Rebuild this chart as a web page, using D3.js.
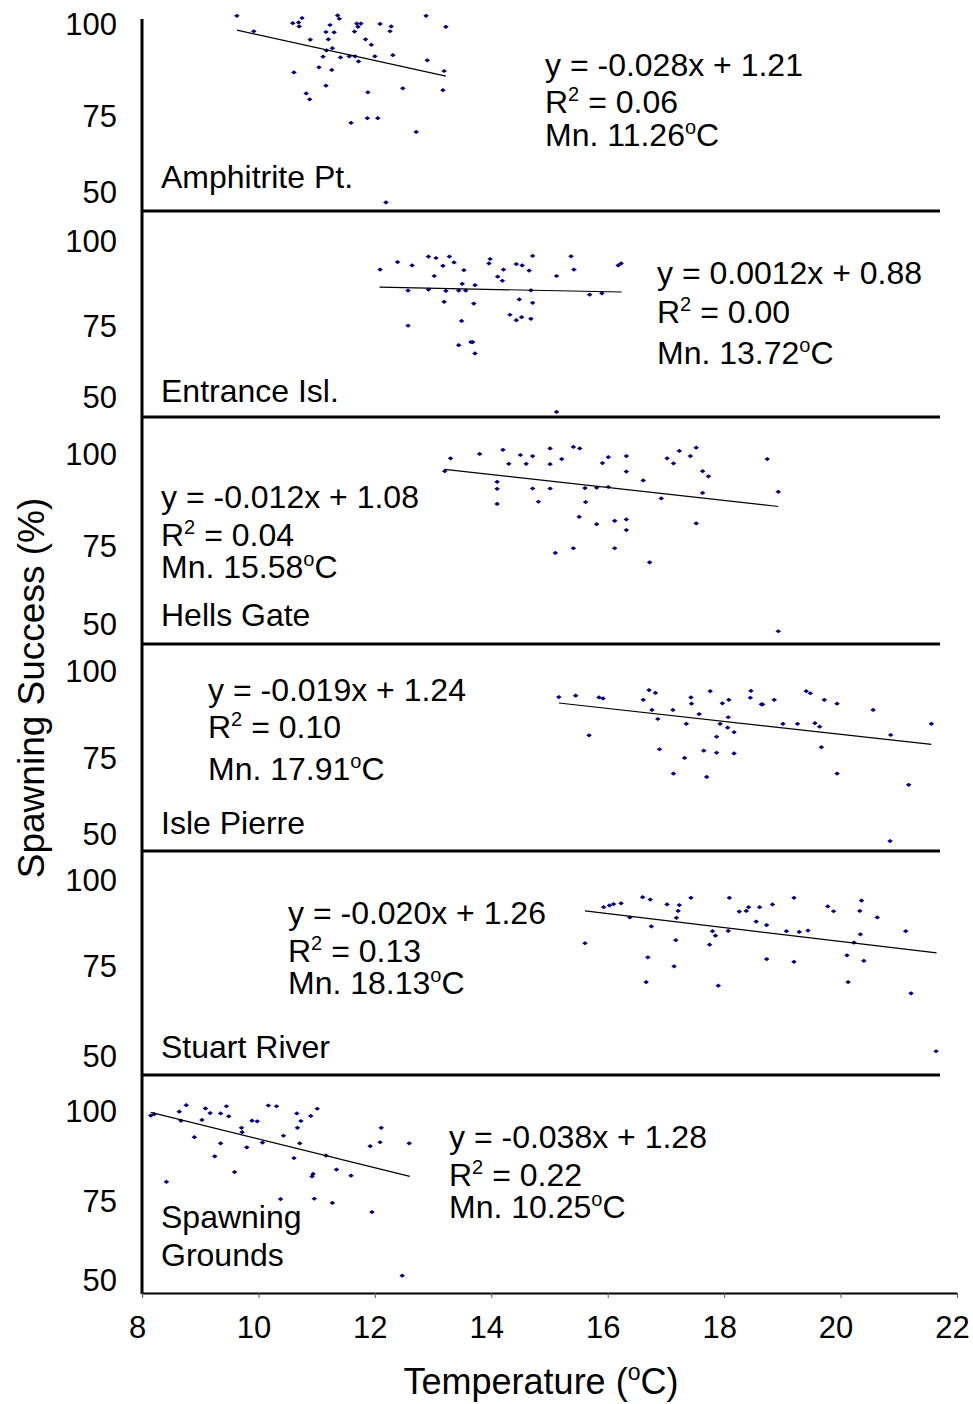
<!DOCTYPE html>
<html>
<head>
<meta charset="utf-8">
<script src="https://cdn.jsdelivr.net/npm/d3@7"></script>
<style>
body { margin: 0; background: #fff; }
svg { display: block; font-family: "Liberation Sans", Arial, sans-serif; }
</style>
</head>
<body>
<div id="container"></div>
<script>
// site names, regression text and tick labels
const site_labels = [["Amphitrite Pt."], ["Entrance Isl."], ["Hells Gate"], ["Isle Pierre"], ["Stuart River"], ["Spawning", "Grounds"]]
const equations = ["y = -0.028x + 1.21", "y = 0.0012x + 0.88", "y = -0.012x + 1.08", "y = -0.019x + 1.24", "y = -0.020x + 1.26", "y = -0.038x + 1.28"]
const r_squared = ["0.06", "0.00", "0.04", "0.10", "0.13", "0.22"]
const mean_temps = ["11.26", "13.72", "15.58", "17.91", "18.13", "10.25"]
const x_ticks = [8, 10, 12, 14, 16, 18, 20, 22]
const y_ticks = [100, 75, 50]

// temperature (C) and spawning success (%) for each site
const temp_amphitrite = [9.63, 9.92, 10.59, 10.69, 10.75, 10.70, 11.36, 11.39, 11.23, 11.16, 11.30, 11.69, 11.76, 11.71, 11.65, 12.09, 12.28, 12.26, 12.88, 13.22, 10.89, 11.20, 11.84, 11.94, 11.27, 11.17, 11.11, 11.41, 11.56, 11.66, 11.72, 12.00, 12.31, 12.90, 13.19, 11.04, 11.26, 10.61, 11.16, 10.82, 10.88, 11.88, 12.48, 13.17, 11.59, 11.87, 12.05, 12.71, 12.19]
const succ_amphitrite = [102.5, 98.3, 100.5, 100.7, 101.9, 99.6, 102.6, 101.7, 100.0, 98.1, 98.0, 100.4, 100.4, 99.5, 98.2, 100.3, 99.6, 98.3, 102.5, 99.5, 96.0, 96.1, 96.1, 94.6, 93.7, 93.1, 91.4, 91.2, 91.5, 91.5, 90.1, 91.5, 91.8, 90.4, 87.5, 88.5, 87.8, 87.1, 83.5, 81.4, 79.8, 81.7, 82.8, 82.3, 73.1, 74.6, 74.6, 70.1, 46.9]

const temp_entrance = [12.09, 12.39, 12.64, 12.92, 13.05, 13.28, 13.17, 13.36, 13.02, 13.53, 13.98, 13.96, 14.21, 14.11, 14.19, 14.43, 14.53, 14.71, 14.65, 15.12, 15.37, 15.42, 16.18, 16.23, 13.50, 13.72, 12.57, 12.92, 13.22, 13.44, 13.56, 14.68, 15.69, 15.90, 13.19, 13.70, 14.48, 14.71, 14.32, 14.43, 14.52, 14.68, 13.49, 12.57, 13.65, 13.68, 13.44, 13.72, 15.12]
const succ_entrance = [91.9, 94.1, 93.1, 95.7, 95.3, 95.7, 93.0, 94.0, 90.0, 91.7, 95.0, 93.7, 91.9, 89.8, 88.6, 93.5, 93.1, 95.9, 91.6, 90.0, 95.8, 91.9, 93.1, 93.7, 87.7, 87.3, 85.7, 86.0, 85.6, 85.7, 85.7, 85.8, 84.5, 84.9, 82.4, 81.9, 83.1, 82.1, 78.6, 77.0, 77.9, 77.4, 76.8, 75.4, 69.7, 69.7, 68.6, 65.7, 45.1]

const temp_hells = [13.30, 13.20, 13.80, 14.20, 14.30, 14.50, 14.60, 14.71, 15.01, 15.01, 15.21, 15.41, 15.52, 15.91, 16.01, 16.32, 16.32, 17.02, 17.13, 17.23, 17.42, 17.52, 17.63, 17.73, 18.74, 18.93, 14.10, 14.10, 14.10, 14.71, 15.01, 14.81, 15.61, 15.81, 16.01, 15.62, 16.61, 16.92, 17.63, 15.51, 15.81, 16.12, 16.32, 16.32, 17.52, 15.10, 15.41, 16.12, 16.72, 18.93]
const succ_hells = [99.1, 95.6, 100.3, 101.4, 97.6, 100.0, 97.6, 99.7, 101.8, 97.5, 98.9, 102.2, 101.8, 97.8, 99.4, 99.7, 95.5, 99.1, 97.7, 101.1, 99.7, 102.0, 95.6, 94.2, 98.9, 90.0, 92.7, 90.8, 86.7, 90.9, 90.9, 87.3, 91.0, 91.1, 91.3, 87.2, 93.1, 88.2, 89.7, 83.2, 81.2, 82.1, 82.5, 79.6, 81.4, 73.1, 74.6, 74.6, 70.1, 48.0]

const temp_pierre = [15.16, 15.45, 15.85, 15.92, 15.68, 16.61, 16.71, 16.82, 16.76, 16.86, 17.12, 16.89, 17.13, 17.43, 17.44, 17.57, 17.35, 17.32, 17.76, 17.97, 18.08, 18.07, 17.93, 18.06, 18.17, 17.87, 17.65, 17.87, 18.17, 17.70, 18.46, 18.45, 18.64, 18.66, 18.86, 19.01, 19.26, 19.41, 19.48, 19.72, 19.94, 19.56, 19.64, 19.67, 19.94, 20.56, 20.86, 21.17, 21.56, 20.85]
const succ_pierre = [92.8, 93.2, 92.7, 92.4, 81.8, 92.0, 94.8, 94.0, 89.1, 86.5, 89.1, 77.8, 70.2, 92.7, 90.9, 87.9, 85.1, 75.3, 94.5, 91.0, 92.0, 87.0, 85.1, 84.0, 82.7, 81.4, 77.4, 76.8, 76.6, 69.1, 94.6, 92.6, 90.7, 90.7, 92.0, 85.1, 85.1, 94.5, 93.9, 92.0, 90.9, 85.3, 84.3, 78.4, 70.2, 89.1, 81.9, 66.5, 85.1, 48.0]

const temp_stuart = [15.61, 15.93, 16.03, 16.10, 16.23, 16.38, 16.60, 16.73, 16.75, 16.69, 16.66, 17.02, 17.23, 17.21, 17.18, 17.17, 17.14, 17.43, 17.80, 17.85, 17.75, 17.90, 18.07, 18.09, 18.26, 18.38, 18.42, 18.61, 18.55, 18.73, 18.73, 18.83, 19.07, 19.20, 19.29, 19.44, 19.20, 19.78, 19.88, 20.11, 20.13, 20.23, 20.33, 20.36, 20.34, 20.40, 20.63, 21.12, 21.21, 21.64]
const succ_stuart = [81.9, 92.4, 92.9, 93.3, 93.5, 89.4, 95.3, 94.6, 86.8, 77.8, 70.8, 93.2, 93.0, 91.3, 89.3, 82.8, 75.2, 95.1, 85.4, 84.1, 81.5, 69.8, 85.5, 95.1, 91.1, 91.3, 92.4, 92.4, 88.2, 87.2, 77.3, 93.2, 85.4, 95.1, 85.2, 85.6, 76.5, 92.6, 91.2, 78.4, 70.8, 82.1, 91.3, 94.3, 84.5, 76.8, 89.4, 85.4, 67.7, 51.6]

const temp_spawning = [8.15, 8.21, 8.42, 8.64, 8.67, 8.76, 8.90, 9.03, 9.09, 9.17, 9.25, 9.35, 9.35, 9.45, 9.49, 9.59, 9.71, 9.72, 9.80, 9.89, 9.98, 10.07, 10.17, 10.31, 10.38, 10.43, 10.61, 10.66, 10.67, 10.73, 10.71, 10.90, 11.01, 10.92, 10.94, 10.96, 11.16, 11.27, 11.34, 11.59, 11.92, 11.95, 12.09, 12.11, 12.59, 12.47]
const succ_spawning = [99.0, 99.4, 80.6, 100.1, 97.6, 101.9, 93.0, 97.8, 101.0, 99.7, 87.7, 91.3, 99.6, 101.6, 98.8, 83.3, 95.6, 94.4, 90.2, 97.6, 97.4, 91.5, 101.8, 101.6, 75.8, 93.4, 87.2, 99.6, 95.6, 97.5, 91.3, 98.9, 100.9, 82.1, 82.8, 75.9, 87.9, 74.7, 84.0, 82.3, 90.5, 71.8, 91.6, 95.6, 91.3, 51.7]

// trend line end points [temp, success]
const fit_amphitrite = [[9.63, 98.6], [13.22, 86.1]]
const fit_entrance = [[12.08, 86.7], [16.24, 85.3]]
const fit_hells = [[13.20, 96.1], [18.93, 86.0]]
const fit_pierre = [[15.16, 91.1], [21.56, 79.2]]
const fit_stuart = [[15.61, 91.3], [21.65, 79.1]]
const fit_spawning = [[8.15, 99.9], [12.60, 82.1]]

const temps = [temp_amphitrite, temp_entrance, temp_hells, temp_pierre, temp_stuart, temp_spawning]
const succs = [succ_amphitrite, succ_entrance, succ_hells, succ_pierre, succ_stuart, succ_spawning]
const fits = [fit_amphitrite, fit_entrance, fit_hells, fit_pierre, fit_stuart, fit_spawning]

// panel layout in pixels (ticks 100 / 75 / 50 are not evenly spaced in the original)
const layout = [
    { top: 19, bottom: 211, y100: 25, y75: 117, y50: 193, labelX: 161, labelY: [188], eqX: 545, eqY: [76, 113, 146] },
    { top: 211, bottom: 417, y100: 242, y75: 327, y50: 398, labelX: 161, labelY: [402], eqX: 657, eqY: [284, 323, 364] },
    { top: 417, bottom: 644, y100: 455, y75: 547, y50: 625, labelX: 161, labelY: [626], eqX: 161, eqY: [508, 546, 578] },
    { top: 644, bottom: 851, y100: 672, y75: 759, y50: 835, labelX: 161, labelY: [834], eqX: 208, eqY: [701, 738, 780] },
    { top: 851, bottom: 1075, y100: 881, y75: 967, y50: 1057, labelX: 161, labelY: [1058], eqX: 288, eqY: [924, 962, 994] },
    { top: 1075, bottom: 1293, y100: 1112, y75: 1202, y50: 1281, labelX: 161, labelY: [1228, 1266], eqX: 449, eqY: [1148, 1186, 1218] }
]

const width = 973, height = 1404
const axisX = 142, sepRight = 940, axisBottom = 1293
const fontSize = 32

const svg = d3.select("#container").append("svg")
    .attr("width", width)
    .attr("height", height)

const xScale = d3.scaleLinear().domain([8, 22]).range([axisX, 957])

// small flat diamond like the excel marker
const marker = {
    draw(ctx) {
        ctx.moveTo(-2.8, 0)
        ctx.lineTo(0, -2.1)
        ctx.lineTo(2.8, 0)
        ctx.lineTo(0, 2.1)
        ctx.closePath()
    }
}

layout.forEach((p, i) => {
    const yScale = d3.scaleLinear().domain([50, 75, 100]).range([p.y50, p.y75, p.y100])
    const g = svg.append("g")

    g.append("g")
        .attr("transform", "translate(" + axisX + ",0)")
        .call(d3.axisLeft(yScale).tickValues(y_ticks).tickSize(0).tickPadding(25))
        .call(a => a.select(".domain").remove())
        .selectAll("text")
        .attr("font-size", 31)
        .attr("font-family", "Liberation Sans, Arial, sans-serif")
        .attr("fill", "#000")

    const pts = temps[i].map((t, j) => [t, succs[i][j]])

    g.selectAll("path.pt")
        .data(pts)
        .enter()
        .append("path")
        .attr("class", "pt")
        .attr("d", d3.symbol().type(marker))
        .attr("transform", d => "translate(" + xScale(d[0]) + "," + yScale(d[1]) + ")")
        .attr("fill", "#000080")

    g.append("path")
        .datum(fits[i])
        .attr("fill", "none")
        .attr("stroke", "#000")
        .attr("stroke-width", 1.2)
        .attr("d", d3.line()
            .x(d => xScale(d[0]))
            .y(d => yScale(d[1])))

    // site name
    site_labels[i].forEach((line, k) => {
        g.append("text")
            .attr("x", p.labelX)
            .attr("y", p.labelY[k])
            .attr("font-size", fontSize)
            .text(line)
    })

    // regression text
    g.append("text")
        .attr("x", p.eqX)
        .attr("y", p.eqY[0])
        .attr("font-size", fontSize)
        .text(equations[i])

    const r2 = g.append("text")
        .attr("x", p.eqX)
        .attr("y", p.eqY[1])
        .attr("font-size", fontSize)
    r2.append("tspan").text("R")
    r2.append("tspan").attr("font-size", 20).attr("dy", -12).text("2")
    r2.append("tspan").attr("dy", 12).text(" = " + r_squared[i])

    const mn = g.append("text")
        .attr("x", p.eqX)
        .attr("y", p.eqY[2])
        .attr("font-size", fontSize)
    mn.append("tspan").text("Mn. " + mean_temps[i])
    mn.append("tspan").attr("font-size", 20).attr("dy", -12).text("o")
    mn.append("tspan").attr("dy", 12).text("C")

    // panel separator
    if (i < layout.length - 1) {
        svg.append("line")
            .attr("x1", axisX)
            .attr("x2", sepRight)
            .attr("y1", p.bottom)
            .attr("y2", p.bottom)
            .attr("stroke", "#000")
            .attr("stroke-width", 3)
    }
})

// left axis line
svg.append("line")
    .attr("x1", axisX)
    .attr("x2", axisX)
    .attr("y1", layout[0].top)
    .attr("y2", axisBottom + 1)
    .attr("stroke", "#000")
    .attr("stroke-width", 3)

// bottom axis
const xaxis = svg.append("g")
    .attr("transform", "translate(0," + axisBottom + ")")
    .call(d3.axisBottom(xScale).tickValues(x_ticks).tickSize(5).tickSizeOuter(0).tickPadding(18))

xaxis.select(".domain").attr("stroke-width", 2)
xaxis.selectAll(".tick line").attr("stroke", "#555")
xaxis.selectAll("text")
    .attr("font-size", 31)
    .attr("font-family", "Liberation Sans, Arial, sans-serif")
    .attr("fill", "#000")
    .attr("dx", -5)

// axis titles
const xtitle = svg.append("text")
    .attr("text-anchor", "middle")
    .attr("x", 541)
    .attr("y", 1394)
    .attr("font-size", 36)
xtitle.append("tspan").text("Temperature (")
xtitle.append("tspan").attr("font-size", 23).attr("dy", -14).text("o")
xtitle.append("tspan").attr("dy", 14).text("C)")

svg.append("text")
    .attr("text-anchor", "middle")
    .attr("transform", "translate(44,688)rotate(-90)")
    .attr("font-size", 37)
    .text("Spawning Success (%)")
</script>
</body>
</html>
